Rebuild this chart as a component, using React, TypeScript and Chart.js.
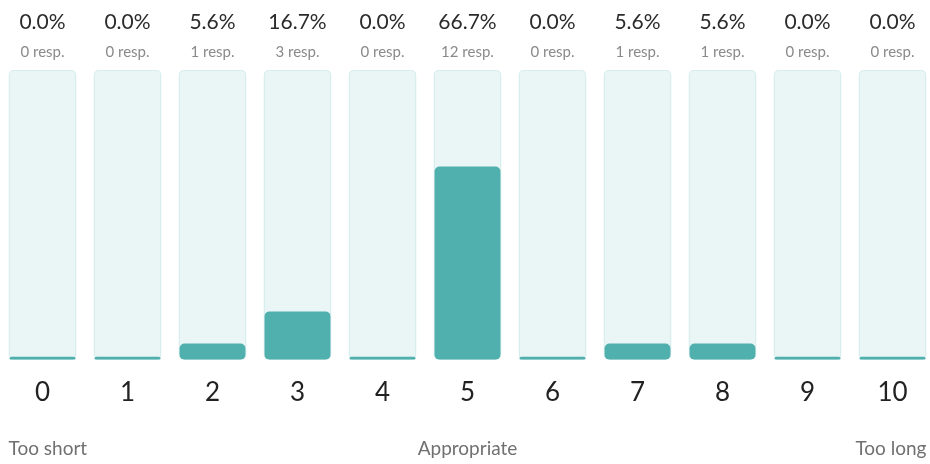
import React, { useEffect, useRef } from "react";
import { Chart, registerables } from "chart.js";

Chart.register(...registerables);

const categories = ["0", "1", "2", "3", "4", "5", "6", "7", "8", "9", "10"];
const responses = [0, 0, 1, 3, 0, 12, 0, 1, 1, 0, 0];
const percents = [0, 0, 5.6, 16.7, 0, 66.7, 0, 5.6, 5.6, 0, 0];
const fullScale = [100, 100, 100, 100, 100, 100, 100, 100, 100, 100, 100];
const scaleLabels = ["Too short", "Appropriate", "Too long"];

const FONT = "Lato, 'Open Sans', sans-serif";

const labelsPlugin = {
  id: "labelsPlugin",
  afterDraw(chart: any) {
    const ctx = chart.ctx;
    const x = chart.scales.x;
    ctx.save();
    ctx.textAlign = "center";
    ctx.textBaseline = "middle";
    categories.forEach((_, i) => {
      const cx = x.getPixelForValue(i);
      ctx.fillStyle = "#2b2b2b";
      ctx.font = `21px ${FONT}`;
      ctx.fillText(percents[i].toFixed(1) + "%", cx, 22);
      ctx.fillStyle = "#8a8a8a";
      ctx.font = `15px ${FONT}`;
      ctx.fillText(responses[i] + " resp.", cx, 52);
    });
    const meta = chart.getDatasetMeta(1);
    const first = meta.data[0];
    const last = meta.data[meta.data.length - 1];
    const leftEdge = first.x - first.width / 2;
    const rightEdge = last.x + last.width / 2;
    ctx.fillStyle = "#707070";
    ctx.font = `19px ${FONT}`;
    ctx.textAlign = "left";
    ctx.fillText(scaleLabels[0], leftEdge, 449);
    ctx.textAlign = "center";
    ctx.fillText(scaleLabels[1], (leftEdge + rightEdge) / 2, 449);
    ctx.textAlign = "right";
    ctx.fillText(scaleLabels[2], rightEdge, 449);
    ctx.restore();
  },
};

export default function App() {
  const ref = useRef<HTMLCanvasElement>(null);
  useEffect(() => {
    document.body.style.margin = "0";
    document.body.style.overflow = "hidden";
    document.documentElement.style.overflow = "hidden";
    const chart = new Chart(ref.current!, {
      type: "bar",
      data: {
        labels: categories,
        datasets: [
          {
            data: percents,
            backgroundColor: "#4fb0ad",
            borderWidth: 0,
            borderRadius: 5,
            borderSkipped: false,
            minBarLength: 3,
            barPercentage: 0.775,
            categoryPercentage: 1,
            grouped: false,
            order: 0,
          },
          {
            data: fullScale,
            backgroundColor: "#eaf5f5",
            borderColor: "#d8eded",
            borderWidth: 1.5,
            borderRadius: 5,
            borderSkipped: false,
            barPercentage: 0.8,
            categoryPercentage: 1,
            grouped: false,
            order: 1,
          },
        ],
      },
      options: {
        animation: false,
        responsive: true,
        maintainAspectRatio: false,
        layout: { padding: { top: 70, bottom: 47, left: 0, right: 0 } },
        plugins: { legend: { display: false }, tooltip: { enabled: false } },
        scales: {
          x: {
            grid: { display: false },
            border: { display: false },
            ticks: {
              color: "#222",
              font: { family: FONT, size: 26 },
              padding: 9,
            },
          },
          y: { display: false, min: 0, max: 100 },
        },
      },
      plugins: [labelsPlugin],
    });
    return () => chart.destroy();
  }, []);
  return (
    <div style={{ position: "relative", width: 935, height: 464 }}>
      <canvas ref={ref} />
    </div>
  );
}
